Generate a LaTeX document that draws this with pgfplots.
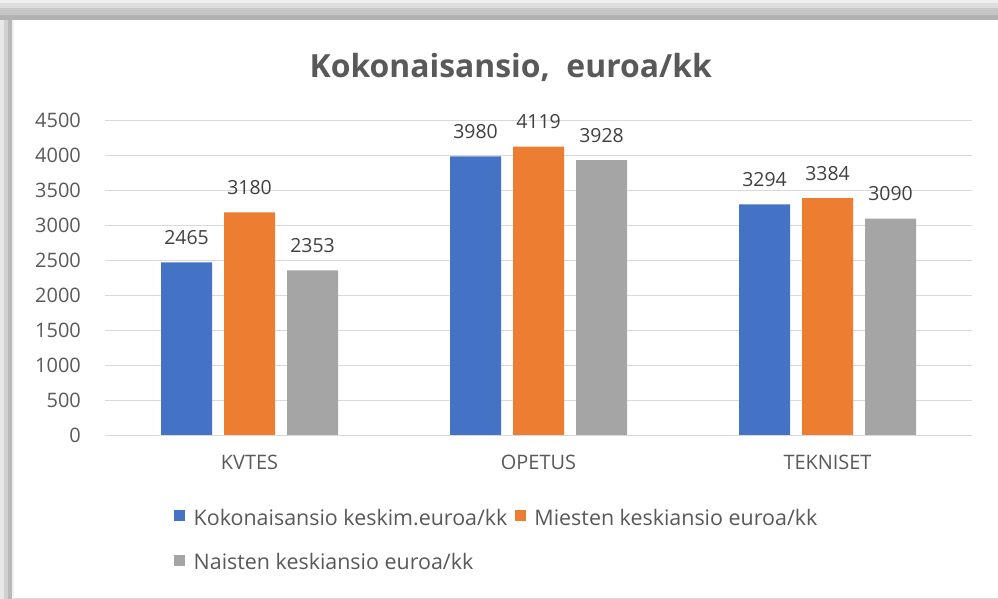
\documentclass[border=0pt]{standalone}
\usepackage{fontspec}
\setmainfont{Open Sans}
\usepackage{pgfplots}
\pgfplotsset{compat=1.18}
\definecolor{cBlue}{HTML}{4472C4}
\definecolor{cOrange}{HTML}{ED7D31}
\definecolor{cGray}{HTML}{A5A5A5}
\definecolor{txt}{HTML}{595959}
\definecolor{lbl}{HTML}{404040}
\definecolor{gridc}{HTML}{D9D9D9}
\begin{document}
\begin{tikzpicture}
% frame / shadow (decoration)
\path[use as bounding box] (0bp,0bp) rectangle (998bp,599bp);
\fill[white] (0bp,0bp) rectangle (998bp,599bp);
\fill[black!6] (0bp,596bp) rectangle (998bp,599bp);
\fill[black!13] (0bp,591bp) rectangle (998bp,596bp);
\fill[black!22] (0bp,584bp) rectangle (998bp,591bp);
\fill[black!30] (0bp,579bp) rectangle (998bp,584bp);
\fill[black!9] (0bp,0bp) rectangle (4bp,579bp);
\fill[black!18] (4bp,0bp) rectangle (8bp,579bp);
\fill[black!28] (8bp,0bp) rectangle (12bp,579bp);
\fill[black!6] (12bp,0bp) rectangle (14bp,579bp);
\fill[white] (14bp,0bp) rectangle (998bp,577bp);
\draw[black!15] (14bp,0.5bp) -- (998bp,0.5bp);
\begin{axis}[
  at={(105bp,164bp)}, anchor=south west,
  scale only axis, width=867bp, height=315bp,
  xmin=-0.5, xmax=2.5, ymin=0, ymax=4500,
  ybar=12bp, bar width=51bp,
  xtick={0,1,2}, xticklabels={KVTES,OPETUS,TEKNISET},
  ytick={0,500,...,4500},
  xmajorgrids=false, ymajorgrids=true,
  grid style={draw=gridc, line width=0.8bp},
  axis line style={draw=none},
  major tick length=0pt, tick style={draw=none},
  tick label style={font=\fontsize{20}{24}\selectfont, text=txt},
  /pgf/number format/assume math mode=true,
  /pgf/number format/1000 sep={},
  yticklabel style={anchor=east, inner sep=0pt, xshift=-24bp},
  xticklabel style={anchor=base, inner sep=0pt, yshift=-35bp},
  title={Kokonaisansio,\ \ euroa/kk},
  title style={at={(axis description cs:0.468,1)}, anchor=base, yshift=37bp,
     font=\bfseries\fontsize{32}{38}\selectfont, text=txt},
  nodes near coords,
  nodes near coords style={font=\fontsize{19.5}{23}\selectfont, text=lbl, anchor=base, inner sep=0pt, yshift=18bp, /pgf/number format/1000 sep={}},
  legend columns=2,
  legend cell align=left,
  legend style={at={(axis description cs:0.0796,-0.229)}, anchor=north west,
     draw=none, fill=none, inner sep=0pt,
     font=\fontsize{21.5}{25}\selectfont, text=txt,
     row sep=24bp,
     /tikz/every odd column/.append style={column sep=7bp},
     /tikz/every even column/.append style={column sep=6bp},
     nodes={inner sep=1.5bp}},
  legend image code/.code={\fill[#1,draw=none] (0bp,-3.5bp) rectangle (11bp,7.5bp);},
]
\addplot[fill=cBlue, draw=none] coordinates {(0,2465) (1,3980) (2,3294)};
\addplot[fill=cOrange, draw=none] coordinates {(0,3180) (1,4119) (2,3384)};
\addplot[fill=cGray, draw=none] coordinates {(0,2353) (1,3928) (2,3090)};
\legend{Kokonaisansio keskim.euroa/kk, Miesten keskiansio euroa/kk, Naisten keskiansio euroa/kk}
\end{axis}
\end{tikzpicture}
\end{document}
